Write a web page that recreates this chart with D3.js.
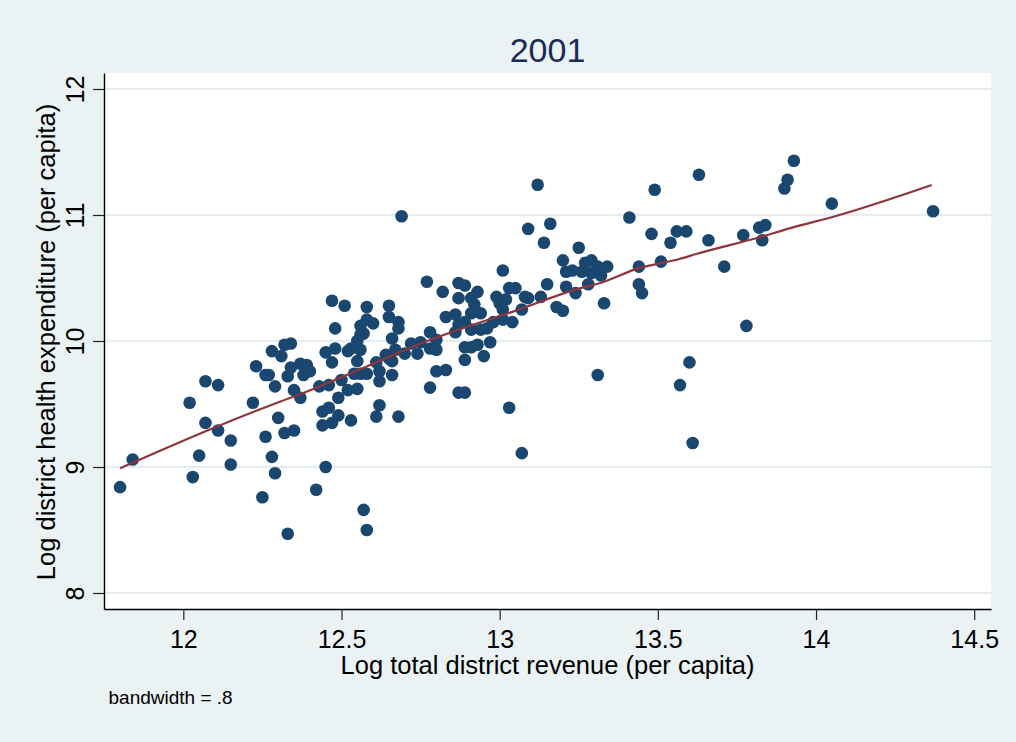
<!DOCTYPE html>
<html>
<head>
<meta charset="UTF-8">
<title>2001</title>
<style>
body, html {
	padding: 0;
	margin: 0;
	overflow: hidden;
	background: #eaf2f3;
	font-family: 'Liberation Sans', Arial, sans-serif;
}
</style>
</head>
<body>
<div id="chart"></div>
<script src="https://cdn.jsdelivr.net/npm/d3@7"></script>
<script>
// log total district revenue (per capita)
var revenue = [11.80, 11.84, 12.02, 12.07, 12.11, 12.07, 12.11, 12.15, 12.05, 12.03, 12.15,
	12.22, 12.23, 12.26, 12.27, 12.29, 12.30, 12.26, 12.32, 12.35, 12.28, 12.29, 12.25, 12.33,
	12.33, 12.35, 12.28, 12.32, 12.34, 12.31, 12.37, 12.39, 12.40, 12.37, 12.34, 12.38,
	12.47, 12.51, 12.58, 12.65, 12.65, 12.68, 12.68, 12.56, 12.58, 12.60, 12.48, 12.66,
	12.45, 12.48, 12.52, 12.53, 12.55, 12.56, 12.57, 12.47, 12.55, 12.61, 12.67, 12.70,
	12.72, 12.75, 12.74, 12.78, 12.80, 12.80, 12.66, 12.64, 12.65, 12.43, 12.46, 12.50,
	12.52, 12.55, 12.54, 12.56, 12.58, 12.62, 12.62, 12.66, 12.49, 12.62, 12.61, 12.68,
	12.44, 12.46, 12.49, 12.44, 12.47, 12.53, 12.45, 12.42, 12.57, 12.58, 12.69, 12.55, 12.56,
	12.77, 12.82, 12.83, 12.78, 12.80, 12.83, 12.78, 12.86, 12.87, 12.86, 12.87, 12.89,
	12.87, 12.89, 12.93, 12.87, 12.91, 12.92, 12.91, 12.94, 12.99, 13.00, 13.02, 13.01,
	13.03, 13.05, 13.08, 13.09, 13.07, 13.01, 12.89, 12.91, 12.94, 12.96, 12.98, 13.01,
	13.04, 12.89, 12.91, 12.93, 12.97, 12.95, 12.89, 13.03, 13.07,
	13.09, 13.12, 13.16, 13.14, 13.13, 13.15, 13.18, 13.20, 13.21, 13.24, 13.25, 13.20,
	13.21, 13.23, 13.27, 13.29, 13.31, 13.26, 13.29, 13.28, 13.31, 13.32, 13.34,
	13.33, 13.41, 13.49, 13.48, 13.56, 13.59, 13.54, 13.44, 13.51, 13.44, 13.45, 13.57,
	13.60, 13.61, 13.63, 13.66, 13.71, 13.77, 13.78, 13.82, 13.84, 13.83, 13.90, 13.91,
	13.93, 14.05, 14.37];

// log district health expenditure (per capita)
var health = [8.84, 9.06, 9.51, 9.68, 9.65, 9.35, 9.29, 9.21, 9.09, 8.92, 9.02,
	9.51, 9.80, 9.73, 9.73, 9.64, 9.39, 9.24, 9.27, 9.29, 9.08, 8.95, 8.76, 8.47,
	9.72, 9.61, 9.92, 9.97, 9.98, 9.88, 9.82, 9.81, 9.76, 9.55, 9.79, 9.73,
	10.32, 10.28, 10.27, 10.28, 10.19, 10.15, 10.10, 10.12, 10.17, 10.14, 10.10, 10.02,
	9.91, 9.94, 9.92, 9.94, 10.00, 10.05, 10.06, 9.83, 9.84, 9.83, 9.93, 9.90,
	9.98, 9.99, 9.90, 9.94, 9.93, 10.01, 9.84, 9.89, 9.86, 9.64, 9.65, 9.69,
	9.61, 9.62, 9.74, 9.74, 9.74, 9.76, 9.68, 9.73, 9.55, 9.49, 9.40, 9.40,
	9.44, 9.47, 9.41, 9.33, 9.35, 9.37, 9.00, 8.82, 8.66, 8.50, 10.99, 9.95, 9.93,
	10.47, 10.39, 10.19, 10.07, 9.76, 9.77, 9.63, 10.21, 10.13, 10.07, 9.59, 9.59,
	10.46, 10.44, 10.39, 10.34, 10.34, 10.29, 10.22, 10.22, 10.35, 10.30, 10.33, 10.25,
	10.42, 10.42, 10.35, 10.34, 10.25, 10.56, 10.15, 10.09, 10.09, 10.10, 10.15, 10.17,
	10.15, 9.95, 9.95, 9.97, 9.99, 9.88, 9.85, 9.47, 9.11,
	10.89, 11.24, 10.93, 10.78, 10.35, 10.45, 10.27, 10.24, 10.43, 10.38, 10.74, 10.64,
	10.55, 10.56, 10.62, 10.64, 10.59, 10.55, 10.54, 10.45, 9.73, 10.52, 10.59,
	10.30, 10.98, 11.20, 10.85, 10.87, 10.87, 10.78, 10.59, 10.63, 10.45, 10.38, 9.65,
	9.83, 9.19, 11.32, 10.80, 10.59, 10.84, 10.12, 10.90, 10.92, 10.80, 11.21, 11.28,
	11.43, 11.09, 11.03];

// lowess smooth
var lowessX = [11.80, 12.105, 12.305, 12.368, 12.516, 12.779, 12.842, 13.042, 13.253, 13.316,
	13.44, 13.568, 13.621, 13.821, 13.916, 14.063, 14.366];
var lowessY = [8.99, 9.32, 9.518, 9.577, 9.73, 10.008, 10.066, 10.233, 10.418, 10.458,
	10.578, 10.651, 10.69, 10.823, 10.894, 10.992, 11.238];

var xTicks = [12, 12.5, 13, 13.5, 14, 14.5];
var yTicks = [8, 9, 10, 11, 12];

var width = 1016;
var height = 742;
var plotLeft = 104, plotRight = 991, plotTop = 73, plotBottom = 609;

var svg = d3.select("#chart").append("svg")
	.attr("width", width)
	.attr("height", height)
	.style("display", "block");

svg.append("rect").attr("width", width).attr("height", height).attr("fill", "#eaf2f3");
svg.append("rect").attr("x", plotLeft).attr("y", plotTop)
	.attr("width", plotRight - plotLeft).attr("height", plotBottom - plotTop).attr("fill", "#ffffff");

var x = d3.scaleLinear().domain([11.7493, 14.5531]).range([plotLeft, plotRight]);
var y = d3.scaleLinear().domain([7.873, 12.127]).range([plotBottom, plotTop]);

// grid
svg.append("g").selectAll("line").data(yTicks).enter().append("line")
	.attr("x1", plotLeft).attr("x2", plotRight)
	.attr("y1", function(d) {return y(d)}).attr("y2", function(d) {return y(d)})
	.attr("stroke", "#e6eef1").attr("stroke-width", 2.5);

// axes
var fmt = d3.format("~g");

var xAxis = svg.append("g").attr("transform", "translate(0," + plotBottom + ")")
	.call(d3.axisBottom(x).tickValues(xTicks).tickFormat(fmt).tickSize(11).tickSizeOuter(0));
var yAxis = svg.append("g").attr("transform", "translate(" + plotLeft + ",0)")
	.call(d3.axisLeft(y).tickValues(yTicks).tickFormat(fmt).tickSize(11).tickSizeOuter(0));

[xAxis, yAxis].forEach(function(a) {
	a.select(".domain").attr("stroke", "#000").attr("stroke-width", 1.4);
	a.selectAll(".tick line").attr("stroke", "#222").attr("stroke-width", 1.2);
	a.selectAll("text").attr("fill", "#000").style("font-size", "25px").style("font-family", "'Liberation Sans', Arial, sans-serif");
});

xAxis.selectAll(".tick text").attr("y", 39).attr("dy", 0);
yAxis.selectAll(".tick text")
	.attr("transform", "rotate(-90)")
	.attr("x", 0).attr("y", -20.5).attr("dy", 0)
	.attr("text-anchor", "middle");

// points
svg.append("g").selectAll("circle").data(revenue).enter().append("circle")
	.attr("cx", function(d) {return x(d)})
	.attr("cy", function(d, i) {return y(health[i])})
	.attr("r", 6.3)
	.attr("fill", "#1a476f");

// lowess line
var line = d3.line()
	.x(function(d) {return x(d)})
	.y(function(d, i) {return y(lowessY[i])})
	.curve(d3.curveMonotoneX);

svg.append("path").datum(lowessX).attr("d", line)
	.attr("fill", "none").attr("stroke", "#90353b").attr("stroke-width", 2.2);

// texts
svg.append("text").attr("x", (plotLeft + plotRight)/2).attr("y", 61.5)
	.attr("text-anchor", "middle").attr("fill", "#1c2b55")
	.style("font-size", "34px").text("2001");

svg.append("text").attr("x", (plotLeft + plotRight)/2).attr("y", 673.5)
	.attr("text-anchor", "middle").attr("fill", "#000")
	.style("font-size", "25.5px").text("Log total district revenue (per capita)");

svg.append("text").attr("transform", "translate(54.5," + ((plotTop + plotBottom)/2 + 1) + ") rotate(-90)")
	.attr("text-anchor", "middle").attr("fill", "#000")
	.style("font-size", "25.5px").text("Log district health expenditure (per capita)");

svg.append("text").attr("x", 108.5).attr("y", 704)
	.attr("fill", "#000")
	.style("font-size", "19px").text("bandwidth = .8");
</script>
</body>
</html>
